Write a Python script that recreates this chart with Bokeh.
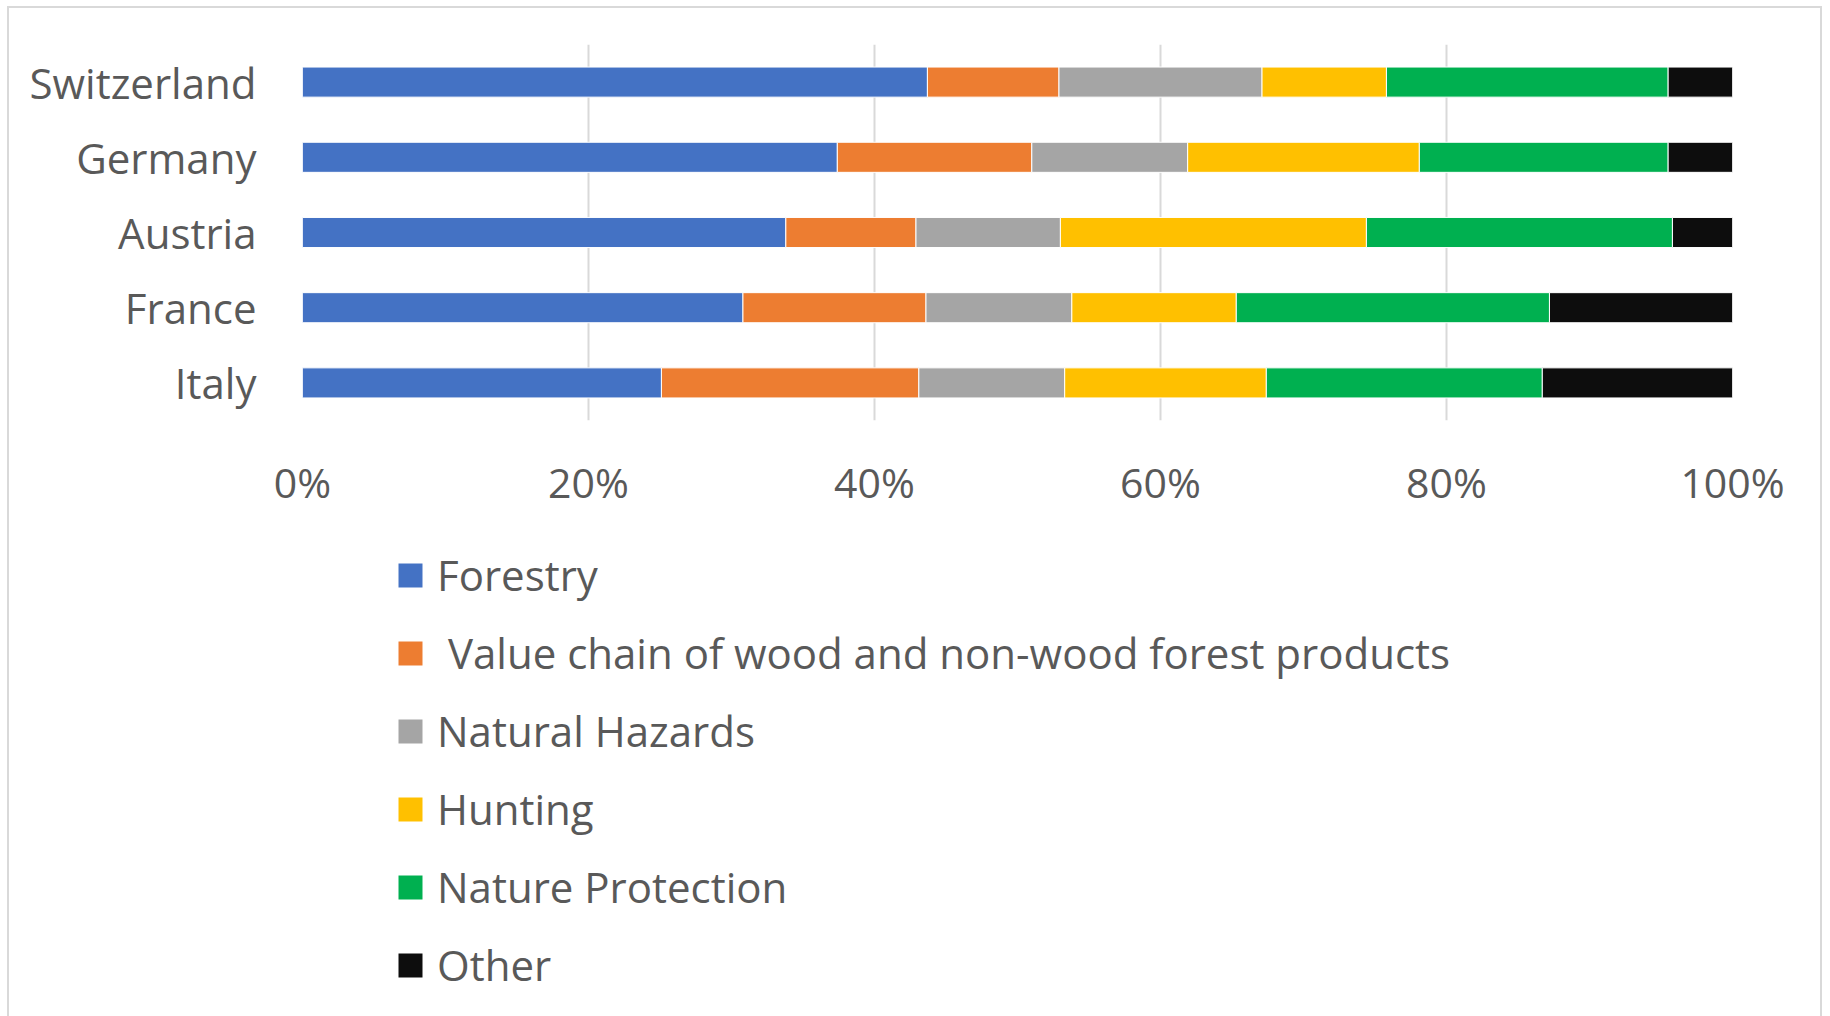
from bokeh.plotting import figure
from bokeh.layouts import column
from bokeh.models import Range1d, FactorRange, FixedTicker, NumeralTickFormatter, Legend, LegendItem
from bokeh.embed import file_html
from bokeh.resources import INLINE

countries = ["Italy", "France", "Austria", "Germany", "Switzerland"]
series = ["Forestry", " Value chain of wood and non-wood forest products", "Natural Hazards",
          "Hunting", "Nature Protection", "Other"]
keys = ["forestry", "value_chain", "hazards", "hunting", "protection", "other"]
colors = ["#4472C4", "#ED7D31", "#A5A5A5", "#FFC000", "#00B050", "#0D0D0D"]

# shares in percent, order follows `countries`
forestry    = [25.1, 30.8, 33.8, 37.4, 43.7]
value_chain = [18.0, 12.8, 9.1, 13.6, 9.2]
hazards     = [10.2, 10.2, 10.1, 10.9, 14.2]
hunting     = [14.1, 11.5, 21.4, 16.2, 8.7]
protection  = [19.3, 21.9, 21.4, 17.4, 19.7]
other       = [13.3, 12.8, 4.2, 4.5, 4.5]

x_ticks = [0, 0.2, 0.4, 0.6, 0.8, 1.0]

vals = [forestry, value_chain, hazards, hunting, protection, other]
data = {"country": countries}
for k, v in zip(keys, vals):
    data[k] = [x / 100.0 for x in v]

FONT = "Open Sans"
TXT = "#595959"
W = 1811

# ---- main chart ----
p = figure(width=W, height=520, y_range=FactorRange(*countries, range_padding=0),
           x_range=Range1d(0, 1), output_backend="svg", toolbar_location=None,
           min_border_left=293, min_border_right=88, min_border_top=36, min_border_bottom=108)
p.outline_line_color = None

p.hbar_stack(keys, y="country", height=0.4, source=data, color=colors,
             line_color="white", line_width=1)

p.xaxis.ticker = FixedTicker(ticks=x_ticks)
p.xaxis.formatter = NumeralTickFormatter(format="0%")
p.xaxis.axis_line_color = None
p.xaxis.major_tick_line_color = None
p.xaxis.minor_tick_line_color = None
p.xaxis.major_tick_out = 0
p.xaxis.minor_tick_out = 0
p.xaxis.major_label_text_font = FONT
p.xaxis.major_label_text_font_size = "41px"
p.xaxis.major_label_text_color = TXT
p.xaxis.major_label_standoff = 33

p.yaxis.axis_line_color = None
p.yaxis.major_tick_line_color = None
p.yaxis.major_tick_out = 0
p.yaxis.minor_tick_out = 0
p.yaxis.major_label_text_font = FONT
p.yaxis.major_label_text_font_size = "42px"
p.yaxis.major_label_text_color = TXT
p.yaxis.major_label_standoff = 46

p.ygrid.grid_line_color = None
p.xgrid.grid_line_color = "#D9D9D9"
p.xgrid.grid_line_width = 2

# ---- legend panel (its renderers are hidden; only the legend shows) ----
q = figure(width=W, height=490, y_range=FactorRange(*countries), x_range=Range1d(0, 1),
           output_backend="svg", toolbar_location=None, x_axis_type=None, y_axis_type=None,
           min_border=0)
q.outline_line_color = None
q.grid.grid_line_color = None
q_renderers = q.hbar_stack(keys, y="country", height=0.4, source=data, color=colors,
                           line_color=None)
for r in q_renderers:
    r.visible = False

items = [LegendItem(label=s, renderers=[r]) for s, r in zip(series, q_renderers)]
legend = Legend(items=items, location=(93, 25), orientation="vertical",
                label_text_font=FONT, label_text_font_size="42px", label_text_color=TXT,
                glyph_width=30, glyph_height=30, label_standoff=12, spacing=21,
                padding=0, margin=0, border_line_color=None, background_fill_alpha=0,
                inactive_fill_alpha=0)
q.add_layout(legend, "center")

layout = column(p, q, spacing=0)
layout.styles = {"border": "2px solid #D9D9D9", "margin": "6px 0 0 7px"}

open("out.html", "w").write(file_html(layout, INLINE))
